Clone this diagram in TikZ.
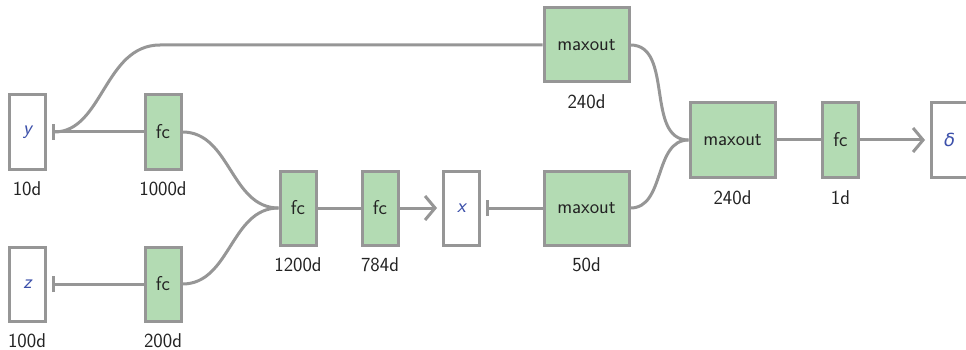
\documentclass[tikz,border=0pt]{standalone}
\usepackage{fontspec}
\newfontfamily\dvsans{DejaVu Sans}
\usetikzlibrary{arrows.meta}
\definecolor{linegray}{RGB}{150,150,150}
\definecolor{boxgreen}{RGB}{179,219,179}
\definecolor{varblue}{RGB}{60,80,170}
\definecolor{txt}{RGB}{35,35,35}
\begin{document}
\begin{tikzpicture}[x=1pt,y=-1pt,
  font=\sffamily\fontsize{20}{22}\selectfont, text=txt,
  box/.style={draw=linegray, line width=3pt, inner sep=0pt, minimum height=74pt},
  narrow/.style={box, minimum width=36pt},
  wide/.style={box, minimum width=85pt},
  layer/.style={fill=boxgreen},
  var/.style={fill=white, text=varblue},
  lbl/.style={inner sep=0pt, text=txt},
  conn/.style={draw=linegray, line width=3pt},
  bar/.style={conn, -{Bar[width=16pt,line width=3pt]}, shorten >=5pt},
  chev/.style={conn, -{Straight Barb[length=10pt,width=24pt,line width=3pt]}, shorten >=5pt}
]
\clip (0,0) rectangle (966,350);
\useasboundingbox (0,0) rectangle (966,350);
% nodes
\node[narrow,var] (y) at (27.5,132) {\itshape y};
\node[narrow,var] (z) at (27.5,284) {\itshape z};
\node[narrow,layer] (fa) at (163,132) {fc};
\node[narrow,layer] (fb) at (163,284) {fc};
\node[narrow,layer] (fc1) at (298,208) {fc};
\node[narrow,layer] (fc2) at (380,208) {fc};
\node[narrow,var] (x) at (461.5,208) {\itshape x};
\node[wide,layer] (m50) at (586.5,208) {maxout};
\node[wide,layer] (mtop) at (586.5,45) {maxout};
\node[wide,layer] (mmid) at (732.5,140) {maxout};
\node[narrow,layer] (fd) at (840.5,140) {fc};
\node[narrow,var] (d) at (949.5,140) {\dvsans\itshape\fontsize{18}{20}\selectfont δ};
% labels
\node[lbl] (ly) at (27,189) {10d};
\node[lbl] (lz) at (27,341) {100d};
\node[lbl] (lfa) at (163,189) {1000d};
\node[lbl] (lfb) at (163,341) {200d};
\node[lbl] (lfc1) at (298,265) {1200d};
\node[lbl] (lfc2) at (380,265) {784d};
\node[lbl] (lm50) at (586.5,265) {50d};
\node[lbl] (lmtop) at (586.5,102) {240d};
\node[lbl] (lmmid) at (732.5,198) {240d};
\node[lbl] (lfd) at (840.5,198) {1d};
% connectors
\coordinate (bend) at (160,45);
\draw[bar] (fa.west) -- (y.east);
\draw[bar] (mtop.west) -- (bend) to[out=180,in=0] (y.east);
\draw[bar] (fb.west) -- (z.east);
\draw[conn] (fa.east) to[out=0,in=180] (fc1.west);
\draw[conn] (fb.east) to[out=0,in=180] (fc1.west);
\draw[conn] (fc1.east) -- (fc2.west);
\draw[chev] (fc2.east) -- (x.west);
\draw[bar] (m50.west) -- (x.east);
\draw[conn] (mtop.east) to[out=0,in=180] (mmid.west);
\draw[conn] (m50.east) to[out=0,in=180] (mmid.west);
\draw[conn] (mmid.east) -- (fd.west);
\draw[chev] (fd.east) -- (d.west);
\end{tikzpicture}
\end{document}
